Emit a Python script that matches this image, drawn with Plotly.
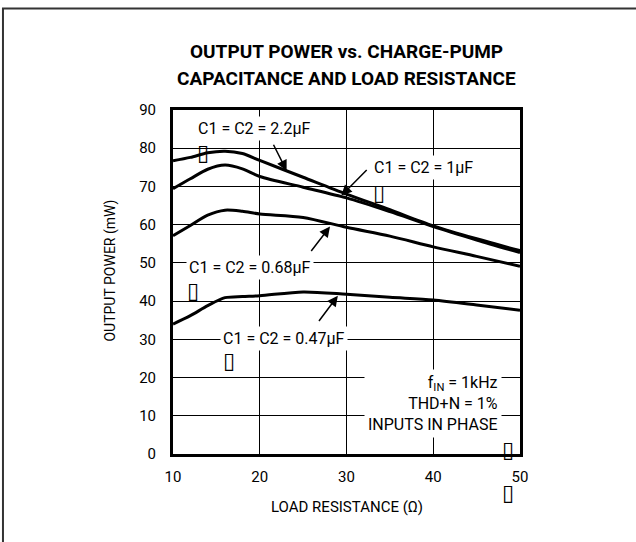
import plotly.graph_objects as go

# ---------------- data ----------------
load_res = [10, 12, 14, 16, 18, 20, 25, 30, 35, 40, 45, 50]
p_2u2 = [76.7, 77.6, 78.8, 79.2, 78.6, 76.8, 72.4, 68.0, 63.9, 59.7, 56.3, 53.2]
p_1u = [69.4, 72.0, 74.5, 75.6, 74.6, 72.6, 69.8, 67.0, 63.4, 59.5, 56.0, 52.7]
p_0u68 = [57.1, 59.8, 62.5, 63.8, 63.5, 62.8, 61.9, 59.3, 57.0, 54.2, 51.7, 49.1]
p_0u47 = [34.0, 36.2, 38.8, 40.9, 41.2, 41.4, 42.4, 41.8, 41.0, 40.3, 39.0, 37.6]
series = [("C1 = C2 = 2.2μF", p_2u2), ("C1 = C2 = 1μF", p_1u),
          ("C1 = C2 = 0.68μF", p_0u68), ("C1 = C2 = 0.47μF", p_0u47)]
x_ticks = [10, 20, 30, 40, 50]
y_ticks = [0, 10, 20, 30, 40, 50, 60, 70, 80, 90]

FONT = "Roboto, Liberation Sans, sans-serif"
TOFU = "DejaVu Sans"

fig = go.Figure()
for name, vals in series:
    fig.add_trace(go.Scatter(x=load_res, y=vals, mode="lines", name=name,
                             line=dict(color="black", width=3, shape="spline", smoothing=0.8),
                             showlegend=False, hoverinfo="skip"))

annotations = []
# curve labels: (text, x, y, arrow tail x, tail y, head x, head y, tofu x, tofu y)
labels = [
    ("C1 = C2 = 2.2μF", 19.4, 85.2, 21.5, 81.3, 23.1, 74.1, 13.45, 78.9),
    ("C1 = C2 = 1μF", 38.9, 75.0, 32.5, 74.7, 29.4, 67.6, 33.7, 68.4),
    ("C1 = C2 = 0.68μF", 18.9, 48.8, 25.8, 52.7, 28.1, 59.5, 12.3, 42.7),
    ("C1 = C2 = 0.47μF", 22.8, 30.1, 26.7, 34.4, 29.0, 41.4, 16.4, 24.4),
]
for text, tx, ty, ax, ay, hx, hy, qx, qy in labels:
    annotations.append(dict(x=tx, y=ty, xref="x", yref="y", text=text, showarrow=False,
                            font=dict(family=FONT, size=16, color="black"),
                            bgcolor="white", borderpad=2))
    annotations.append(dict(x=hx, y=hy, ax=ax, ay=ay, xref="x", yref="y", axref="x", ayref="y",
                            text="", showarrow=True, arrowhead=2, arrowsize=1.4,
                            arrowwidth=1.5, arrowcolor="black"))
    annotations.append(dict(x=qx, y=qy, xref="x", yref="y", text="▯", showarrow=False,
                            font=dict(family=TOFU, size=22, color="black")))

annotations.append(dict(x=47.9, y=13.3, xref="x", yref="y", xanchor="right",
                        text="f<sub>IN</sub> = 1kHz<br>THD+N = 1%<br>INPUTS IN PHASE",
                        align="right", showarrow=False, bgcolor="white", borderpad=3,
                        font=dict(family=FONT, size=16, color="black")))
annotations.append(dict(x=48.6, y=1.3, xref="x", yref="y", text="▯", showarrow=False,
                        font=dict(family=TOFU, size=22, color="black")))
annotations.append(dict(x=0.965, y=-0.113, xref="paper", yref="paper", text="▯", showarrow=False,
                        xanchor="center", yanchor="middle",
                        font=dict(family=TOFU, size=22, color="black")))

# titles
annotations.append(dict(x=0.5, y=1.169, xref="paper", yref="paper", showarrow=False,
                        xanchor="center", yanchor="middle",
                        text="<b>OUTPUT POWER vs. CHARGE-PUMP</b>",
                        font=dict(family=FONT, size=19, color="black")))
annotations.append(dict(x=0.5, y=1.093, xref="paper", yref="paper", showarrow=False,
                        xanchor="center", yanchor="middle",
                        text="<b>CAPACITANCE AND LOAD RESISTANCE</b>",
                        font=dict(family=FONT, size=19, color="black")))
annotations.append(dict(x=0.5, y=-0.154, xref="paper", yref="paper", showarrow=False,
                        xanchor="center", yanchor="middle",
                        text="LOAD RESISTANCE (Ω)",
                        font=dict(family=FONT, size=15, color="black")))
annotations.append(dict(x=-0.18, y=0.532, xref="paper", yref="paper", showarrow=False,
                        xanchor="center", yanchor="middle",
                        text="OUTPUT POWER (mW)", textangle=-90,
                        font=dict(family=FONT, size=14, color="black")))

fig.update_layout(
    width=636, height=542,
    margin=dict(l=173, r=116, t=110, b=88),
    paper_bgcolor="white", plot_bgcolor="white",
    annotations=annotations,
    shapes=[dict(type="rect", xref="paper", yref="paper",
                 x0=-0.49, x1=1.4, y0=-0.3, y1=1.295,
                 line=dict(color="#333333", width=2))],
    font=dict(family=FONT, size=15, color="black"),
)
fig.update_xaxes(range=[10, 50], tickvals=x_ticks, showgrid=True, gridcolor="black", gridwidth=1,
                 showline=True, linecolor="black", linewidth=3, mirror=True, zeroline=False,
                 ticks="", ticklabelstandoff=7, tickfont=dict(family=FONT, size=15))
fig.update_yaxes(range=[0, 90], tickvals=y_ticks, showgrid=True, gridcolor="black", gridwidth=1,
                 showline=True, linecolor="black", linewidth=3, mirror=True, zeroline=False,
                 ticks="", ticklabelstandoff=11, tickfont=dict(family=FONT, size=15))

fig.write_html("out.html", config={"displayModeBar": False},
               post_script="document.body.style.margin='0px';")
